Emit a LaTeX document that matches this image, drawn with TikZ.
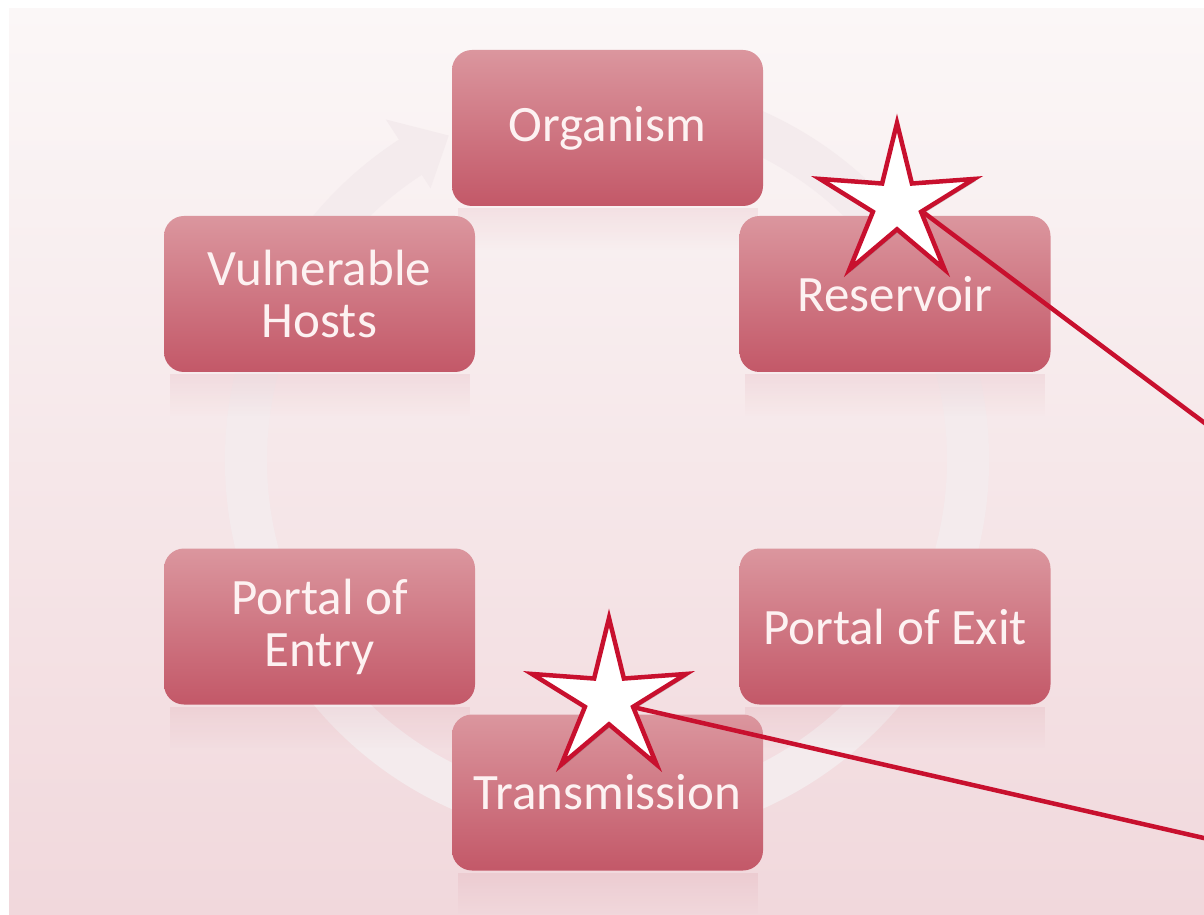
\documentclass[tikz,border=0pt]{standalone}
\usepackage{fontspec}
\setmainfont{Carlito}
\usetikzlibrary{shapes.geometric,shadows,fadings}
\definecolor{bgtop}{RGB}{251,247,247}
\definecolor{bgbot}{RGB}{241,216,220}
\definecolor{boxtop}{RGB}{219,150,158}
\definecolor{boxmid}{RGB}{213,132,143}
\definecolor{boxbot}{RGB}{195,88,104}
\definecolor{ringcol}{RGB}{244,235,237}
\definecolor{starred}{RGB}{200,16,46}
\definecolor{txt}{RGB}{253,242,242}
\tikzfading[name=reflfade, top color=transparent!90, bottom color=transparent!100]
\begin{document}
\begin{tikzpicture}[x=1pt,y=1pt,
  stagebox/.style={rectangle, rounded corners=20pt, minimum width=311pt, minimum height=156pt, inner sep=0pt,
    top color=boxtop, middle color=boxmid, bottom color=boxbot, text=txt,
    font=\fontsize{51}{52}\selectfont, align=center},
  markstar/.style={star, star points=5, star point ratio=3.2, minimum size=162pt, inner sep=0pt,
    draw=starred, line width=4.5pt, fill=white,
    drop shadow={shadow xshift=2pt, shadow yshift=-2pt, opacity=0.3, fill=black!60}},
  pointer/.style={draw=starred, line width=4.5pt},
  refl/.style={fill=boxbot, path fading=reflfade}]
\useasboundingbox (0,0) rectangle (1204,914);
\fill[white] (0,0) rectangle (1204,914);
\shade[top color=bgtop, bottom color=bgbot] (9,0) rectangle (1204,905);
% faint cycle arrow
\begin{scope}[shift={(607,454)}]
\fill[ringcol] (75:382) arc[start angle=75, end angle=-237, radius=382]
  -- (123:406) -- (116:361) -- (123:324) -- (123:340)
  arc[start angle=-237, end angle=75, radius=340] -- cycle;
\end{scope}
% reflections
\foreach \cx/\cy in {607.5/786, 895/620, 895/287.5, 607.5/121.5, 319.5/287.5, 319.5/620}
  \fill[refl] (\cx-150,\cy-80) rectangle (\cx+150,\cy-122);
% stages
\node[stagebox] (org) at (607.5,786) {\raisebox{-3pt}{Organism}};
\node[stagebox] (res) at (895,620) {\raisebox{-3pt}{Reservoir}};
\node[stagebox] (exit) at (895,287.5) {\raisebox{-3pt}{Portal of Exit}};
\node[stagebox] (trans) at (607.5,121.5) {\raisebox{-3pt}{Transmission}};
\node[stagebox] (entry) at (319.5,287.5) {Portal of\\Entry};
\node[stagebox] (vh) at (319.5,620) {Vulnerable\\Hosts};
% stars and pointers
\node[markstar] (s1) at (897,710) {};
\node[markstar] (s2) at (609,215) {};
\coordinate (e1) at (1206,490);
\coordinate (e2) at (1206,75.5);
\draw[pointer] (s1.inner point 4) -- (e1);
\draw[pointer] (s2.inner point 4) -- (e2);
\end{tikzpicture}
\end{document}
